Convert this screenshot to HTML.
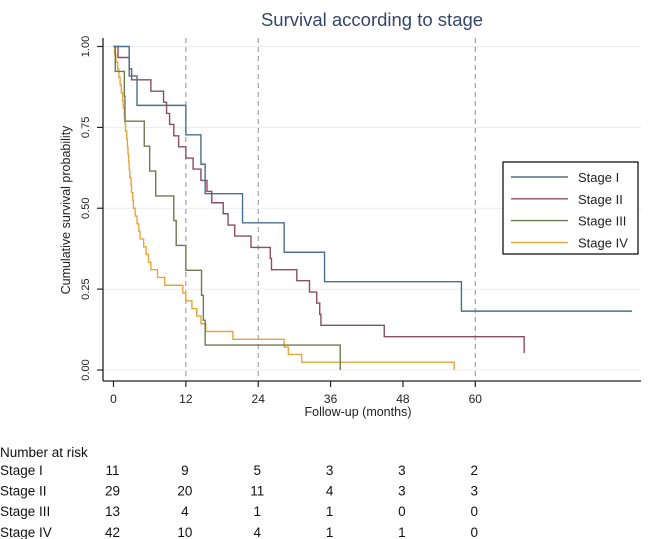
<!DOCTYPE html>
<html><head><meta charset="utf-8"><style>
html,body{margin:0;padding:0;background:#fff;}
svg{display:block;font-family:"Liberation Sans",sans-serif;}
</style></head><body>
<svg id="chart" width="650" height="539" viewBox="0 0 650 539">
<text x="372" y="26" text-anchor="middle" font-size="18.5" fill="#34466a">Survival according to stage</text>
<g id="grid"></g>
<g id="axes"></g>
<g id="series"></g>
<g id="legend">
<rect x="503" y="162" width="135" height="92" fill="#fff" stroke="#000" stroke-width="1.2"/>
</g>
<g id="risk"></g>
</svg>
<script>
const xTicks = [0, 12, 24, 36, 48, 60];
const yTicks = [0, 0.25, 0.5, 0.75, 1];
const yTickLabels = ["0.00", "0.25", "0.50", "0.75", "1.00"];
const seriesNames = ["Stage I", "Stage II", "Stage III", "Stage IV"];
const seriesColors = ["#4b6f8c", "#8c4c66", "#6d7b4c", "#e9a43a"];
const stage1Times = [2.6, 3.9, 12.0, 14.5, 15.2, 21.4, 28.3, 35.0, 57.7];
const stage1Surv = [0.909, 0.818, 0.727, 0.636, 0.545, 0.455, 0.364, 0.273, 0.182];
const stage1End = 86;
const stage2Times = [0.75, 2.6, 3.0, 6.2, 8.3, 8.8, 9.3, 10.0, 10.8, 12.0, 13.2, 14.5, 15.5, 16.3, 18.2, 19.0, 20.1, 22.8, 26.0, 26.2, 30.4, 32.5, 33.7, 34.2, 34.4, 44.9, 68.1];
const stage2Surv = [0.966, 0.931, 0.897, 0.862, 0.828, 0.793, 0.759, 0.724, 0.690, 0.655, 0.621, 0.586, 0.552, 0.517, 0.483, 0.448, 0.414, 0.379, 0.345, 0.310, 0.276, 0.241, 0.207, 0.172, 0.138, 0.103, 0.052];
const stage2End = 68.1;
const stage3Times = [0.3, 1.8, 1.9, 5.1, 6.0, 7.0, 10.0, 10.4, 12.0, 14.6, 14.9, 15.2, 37.6];
const stage3Surv = [0.923, 0.846, 0.769, 0.692, 0.615, 0.538, 0.462, 0.385, 0.308, 0.231, 0.154, 0.077, 0];
const stage3End = 37.6;
const stage4Times = [0.2,0.4,0.7,0.9,1.1,1.3,1.5,1.6,1.8,1.9,2.0,2.2,2.3,2.4,2.5,2.6,2.7,2.9,3.0,3.2,3.3,3.6,3.9,4.2,4.4,5.0,5.4,5.8,6.2,7.3,8.5,11.5,12.0,13.0,13.8,14.5,15.3,19.8,28.3,29.0,31.2,56.5];
const stage4Surv = [0.976,0.952,0.929,0.905,0.881,0.857,0.833,0.810,0.786,0.762,0.738,0.714,0.690,0.667,0.643,0.619,0.595,0.571,0.548,0.524,0.500,0.476,0.452,0.429,0.405,0.381,0.357,0.333,0.310,0.286,0.262,0.238,0.214,0.190,0.167,0.143,0.119,0.095,0.071,0.048,0.024,0];
const stage4End = 56.5;
const riskStage1 = [11, 9, 5, 3, 3, 2];
const riskStage2 = [29, 20, 11, 4, 3, 3];
const riskStage3 = [13, 4, 1, 1, 0, 0];
const riskStage4 = [42, 10, 4, 1, 1, 0];

const NS = "http://www.w3.org/2000/svg";
const X0 = 113.5, XS = 6.03, Y0 = 370, YS = 323.5;
function xs(m){ return X0 + m * XS; }
function ys(v){ return Y0 - v * YS; }
function mk(tag, attrs, parent){ const e = document.createElementNS(NS, tag); for (const k in attrs) e.setAttribute(k, attrs[k]); parent.appendChild(e); return e; }
const grid = document.getElementById('grid'), axes = document.getElementById('axes'), ser = document.getElementById('series'), leg = document.getElementById('legend'), risk = document.getElementById('risk');

yTicks.forEach((v, i) => {
  const g = mk('line', {x1: 103, x2: 641, y1: ys(v), y2: ys(v), stroke: '#ececec', 'stroke-width': 1}, grid);
  
  
  const t = mk('line', {x1: 97, x2: 103, y1: ys(v), y2: ys(v), stroke: '#222', 'stroke-width': 1.2}, axes);
  
  
  const lab = mk('text', {x: 0, y: 0, 'font-size': 11, fill: '#222', 'text-anchor': 'middle', transform: `translate(89 ${ys(v)}) rotate(-90)`}, axes);
  lab.textContent = yTickLabels[i];
  
  
});
[12, 24, 60].forEach(m => {
  const d = mk('line', {x1: xs(m), x2: xs(m), y1: 38, y2: 380, stroke: '#999', 'stroke-width': 1.1, 'stroke-dasharray': '5,4'}, grid);
  
  
});
const yax = mk('line', {x1: 103, x2: 103, y1: 38, y2: 381, stroke: '#222', 'stroke-width': 1.3}, axes);


const xax = mk('line', {x1: 103, x2: 641, y1: 381, y2: 381, stroke: '#222', 'stroke-width': 1.3}, axes);


xTicks.forEach(m => {
  const t = mk('line', {x1: xs(m), x2: xs(m), y1: 381, y2: 387, stroke: '#222', 'stroke-width': 1.2}, axes);
  
  
  const lab = mk('text', {x: xs(m), y: 403, 'font-size': 12, fill: '#222', 'text-anchor': 'middle'}, axes);
  lab.textContent = m;
  
  
});
const xt = mk('text', {x: 358, y: 416, 'font-size': 12.5, fill: '#222', 'text-anchor': 'middle'}, axes);
xt.textContent = 'Follow-up (months)';


const yt = mk('text', {x: 0, y: 0, 'font-size': 12.5, fill: '#222', 'text-anchor': 'middle', transform: 'translate(70 210) rotate(-90)'}, axes);
yt.textContent = 'Cumulative survival probability';



const allTimes = [stage1Times, stage2Times, stage3Times, stage4Times];
const allSurv = [stage1Surv, stage2Surv, stage3Surv, stage4Surv];
const allEnd = [stage1End, stage2End, stage3End, stage4End];
[3, 2, 1, 0].forEach(s => {
  let d = `M${xs(0)},${ys(1)}`, prev = 1;
  allTimes[s].forEach((t, i) => { d += ` H${xs(t)} V${ys(allSurv[s][i])}`; prev = allSurv[s][i]; });
  d += ` H${xs(allEnd[s])}`;
  const p = mk('path', {d: d, fill: 'none', stroke: seriesColors[s], 'stroke-width': 1.4}, ser);
  
  
});

seriesNames.forEach((n, i) => {
  const y = 177 + i * 21.8;
  const l = mk('line', {x1: 511, x2: 568, y1: y, y2: y, stroke: seriesColors[i], 'stroke-width': 1.4}, leg);
  
  
  const t = mk('text', {x: 578, y: y + 5, 'font-size': 13, fill: '#222'}, leg);
  t.textContent = n;
  
  
});

const rh = mk('text', {x: 0, y: 457, 'font-size': 13.5, fill: '#111'}, risk);
rh.textContent = 'Number at risk';


const riskRows = [riskStage1, riskStage2, riskStage3, riskStage4];
riskRows.forEach((row, r) => {
  const y = 475 + r * 20.6;
  const lab = mk('text', {x: 0, y: y, 'font-size': 13.5, fill: '#111'}, risk);
  lab.textContent = seriesNames[r];
  
  
  row.forEach((v, c) => {
    const t = mk('text', {x: xs(xTicks[c]) - 1, y: y, 'font-size': 13.5, fill: '#111', 'text-anchor': 'middle'}, risk);
    t.textContent = v;
    
    
  });
});
</script>
</body></html>
